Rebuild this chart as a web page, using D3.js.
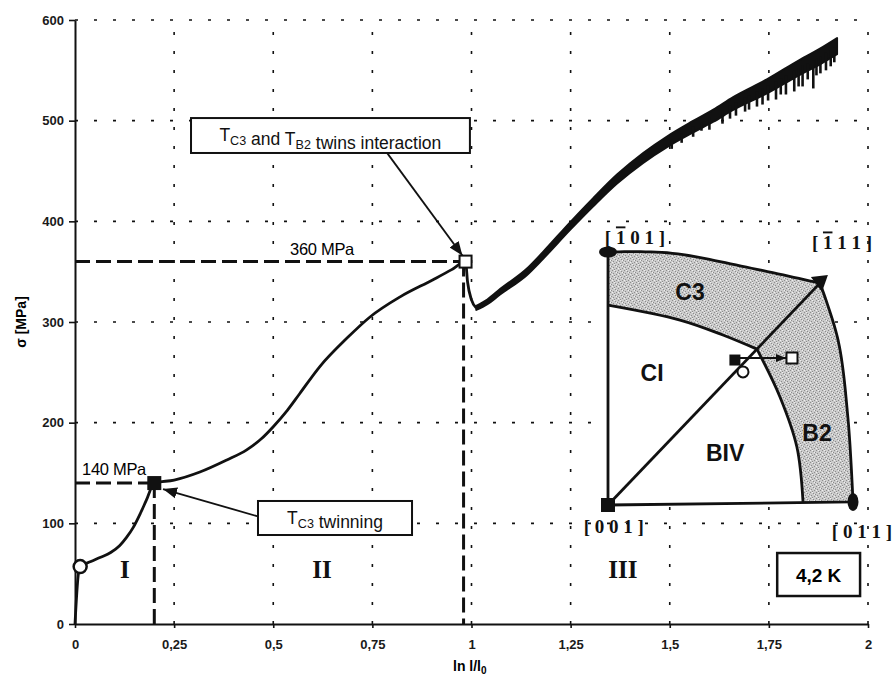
<!DOCTYPE html>
<html><head><meta charset="utf-8">
<script src="https://cdn.jsdelivr.net/npm/d3@7"></script>
<style>
html,body{margin:0;padding:0;background:#fff;}
svg{display:block;}
text{font-family:"Liberation Sans",Arial,sans-serif;}
.serif{font-family:"Liberation Serif","Times New Roman",serif;}
</style></head><body>
<script>
// ---------- data ----------
const xTicks = [0, 0.25, 0.5, 0.75, 1, 1.25, 1.5, 1.75, 2];
const xTickLabels = ["0", "0,25", "0,5", "0,75", "1", "1,25", "1,5", "1,75", "2"];
const yTicks = [0, 100, 200, 300, 400, 500, 600];

// stress-strain curve up to the stress drop (ln l/l0, sigma MPa)
const curveLow = [[0,0],[0.008,48],[0.013,57],[0.04,62],[0.063,66],[0.09,71],[0.113,78],[0.13,86],[0.147,96],[0.165,110],[0.18,123],[0.2,140],[0.25,143],[0.315,151],[0.383,163],[0.433,173],[0.47,184],[0.5,196],[0.535,212],[0.567,229],[0.618,256],[0.686,284],[0.744,305],[0.82,325],[0.903,342],[0.95,352],[0.985,360],[0.99,340],[1.0,322],[1.012,314]];
// serrated part after the drop (centre of the band)
const curveHigh = [[1.012,314],[1.04,320],[1.072,330],[1.14,350],[1.18,366],[1.248,395],[1.307,419],[1.367,442],[1.433,463],[1.493,479],[1.559,494],[1.61,505],[1.66,517],[1.745,534],[1.828,553],[1.88,564],[1.922,574]];
// vertical thickness of the serrated band (MPa)
const bandWidth = [[1.012,4],[1.1,6],[1.3,8],[1.45,10],[1.6,12],[1.75,14],[1.922,16]];
// serration spikes: [ln l/l0, lowest sigma of the spike]
const spikes = [[1.505,472],[1.53,478],[1.559,484],[1.58,490],[1.6,491],[1.633,497],[1.652,502],[1.667,505],[1.69,509],[1.7,511],[1.72,514],[1.734,516],[1.748,520],[1.768,521],[1.78,526],[1.793,526],[1.814,529],[1.825,534],[1.835,534],[1.848,541],[1.862,532],[1.87,545],[1.88,547],[1.894,550],[1.906,554],[1.915,558]];

// key points
const startYield = [0.013, 57];
const twinC3 = [0.2, 140];
const twinInteraction = [0.985, 360];
const stageLabels = [["I",0.126],["II",0.623],["III",1.382]];

// inset: stereographic triangle, unit coordinates
const cornerPts = {c001:[0,0], c101:[0,1], c111:[0.865,0.877], c011:[1.0,0.012]};
const topEdge = [[0,1],[0.253,0.996],[0.58,0.937],[0.865,0.877]];
const rightEdge = [[0.865,0.877],[0.939,0.652],[0.98,0.336],[1.0,0.012]];
const c3ciBoundary = [[0,0.79],[0.294,0.731],[0.469,0.672],[0.608,0.616]];
const b2bivBoundary = [[0.608,0.616],[0.702,0.427],[0.771,0.229],[0.796,0.012]];
const regionLabels = [["C3",0.335,0.842],["CI",0.18,0.522],["BIV",0.478,0.205],["B2",0.853,0.285]];
const axisPoint = {start:[0.551,0.526], mid:[0.518,0.573], end:[0.751,0.581]};

// ---------- drawing ----------
const W = 894, H = 676;
const svg = d3.select("body").append("svg").attr("width", W).attr("height", H);
const x = d3.scaleLinear().domain([0, 2]).range([75, 868]);
const y = d3.scaleLinear().domain([0, 600]).range([624, 20]);

// grid (dotted)
const grid = svg.append("g").attr("stroke", "#111").attr("stroke-width", 1.6).attr("stroke-dasharray", "3,16");
grid.selectAll(".gx").data(xTicks.slice(1)).join("line")
  .attr("x1", d => x(d)).attr("x2", d => x(d)).attr("y1", y(0)).attr("y2", y(600));
grid.selectAll(".gy").data(yTicks.slice(1)).join("line")
  .attr("x1", x(0)).attr("x2", x(2)).attr("y1", d => y(d)).attr("y2", d => y(d));

// axes
const yAxis = svg.append("g").attr("transform", `translate(${x(0)},0)`)
  .call(d3.axisLeft(y).tickValues(yTicks).tickSize(6).tickPadding(5).tickSizeOuter(0));
const xAxis = svg.append("g").attr("transform", `translate(0,${y(0)})`)
  .call(d3.axisBottom(x).tickValues(xTicks).tickSize(4).tickPadding(12).tickSizeOuter(0)
    .tickFormat((d, i) => xTickLabels[i]));
[xAxis, yAxis].forEach(a => {
  a.select(".domain").attr("stroke", "#111").attr("stroke-width", 2);
  a.selectAll(".tick line").attr("stroke", "#111").attr("stroke-width", 1.6);
  a.selectAll("text").attr("font-size", 13).attr("font-weight", "bold").attr("fill", "#1a1a1a")
    .attr("font-family", "'Liberation Sans', Arial, sans-serif");
});

// axis titles
svg.append("text").attr("transform", `translate(26,322) rotate(-90)`).attr("text-anchor", "middle")
  .attr("font-size", 14).attr("font-weight", "bold").text("σ [MPa]");
const xt = svg.append("text").attr("x", 453).attr("y", 671).attr("font-size", 14).attr("font-weight", "bold");
xt.append("tspan").text("ln l/l");
xt.append("tspan").attr("font-size", 10).attr("dy", 3).text("0");

// dashed reference lines
const dash = svg.append("g").attr("stroke", "#111").attr("stroke-width", 3).attr("stroke-dasharray", "15,6").attr("fill", "none");
dash.append("line").attr("x1", x(0)).attr("x2", x(twinC3[0])).attr("y1", y(twinC3[1])).attr("y2", y(twinC3[1]));
dash.append("line").attr("x1", x(twinC3[0])).attr("x2", x(twinC3[0])).attr("y1", y(twinC3[1])).attr("y2", y(0));
dash.append("line").attr("x1", x(0)).attr("x2", x(twinInteraction[0])).attr("y1", y(twinInteraction[1])).attr("y2", y(twinInteraction[1]));
dash.append("line").attr("x1", x(0.98)).attr("x2", x(0.98)).attr("y1", y(twinInteraction[1])).attr("y2", y(0));

// curve
const line = d3.line().x(d => x(d[0])).y(d => y(d[1])).curve(d3.curveMonotoneX);
svg.append("path").datum(curveLow).attr("d", line).attr("fill", "none").attr("stroke", "#111").attr("stroke-width", 2.8);
const lerp = (arr, xv) => {
  if (xv <= arr[0][0]) return arr[0][1];
  for (let i = 1; i < arr.length; i++) {
    const a = arr[i-1], b = arr[i];
    if (xv <= b[0]) return a[1] + (b[1]-a[1]) * (xv - a[0]) / (b[0]-a[0]);
  }
  return arr[arr.length-1][1];
};
const band = d3.area().x(d => x(d[0]))
  .y0(d => y(d[1] - lerp(bandWidth, d[0]) / 2)).y1(d => y(d[1] + lerp(bandWidth, d[0]) / 2))
  .curve(d3.curveMonotoneX);
svg.append("path").datum(curveHigh).attr("d", band).attr("fill", "#111").attr("stroke", "#111").attr("stroke-width", 2).attr("stroke-linejoin", "round");
svg.append("g").selectAll("line").data(spikes).join("line")
  .attr("x1", d => x(d[0])).attr("x2", d => x(d[0]))
  .attr("y1", d => y(lerp(curveHigh, d[0]))).attr("y2", d => y(d[1]))
  .attr("stroke", "#111").attr("stroke-width", 2.6);

// markers on the curve
svg.append("circle").attr("cx", x(startYield[0])).attr("cy", y(startYield[1])).attr("r", 6.5)
  .attr("fill", "#fff").attr("stroke", "#111").attr("stroke-width", 2.5);
svg.append("rect").attr("x", x(twinC3[0]) - 7).attr("y", y(twinC3[1]) - 7).attr("width", 14).attr("height", 14).attr("fill", "#111");
svg.append("rect").attr("x", x(twinInteraction[0]) - 6).attr("y", y(twinInteraction[1]) - 6).attr("width", 12).attr("height", 12)
  .attr("fill", "#fff").attr("stroke", "#111").attr("stroke-width", 2);

// arrow marker
const defs = svg.append("defs");
defs.append("marker").attr("id", "arr").attr("viewBox", "0 0 10 10").attr("refX", 10).attr("refY", 5)
  .attr("markerWidth", 14).attr("markerHeight", 14).attr("markerUnits", "userSpaceOnUse").attr("orient", "auto")
  .append("path").attr("d", "M0,1 L10,5 L0,9 Z").attr("fill", "#111");
defs.append("marker").attr("id", "arrS").attr("viewBox", "0 0 10 10").attr("refX", 10).attr("refY", 5)
  .attr("markerWidth", 10).attr("markerHeight", 10).attr("markerUnits", "userSpaceOnUse").attr("orient", "auto")
  .append("path").attr("d", "M0,1 L10,5 L0,9 Z").attr("fill", "#111");
// stipple pattern
const pat = defs.append("pattern").attr("id", "stip").attr("width", 6).attr("height", 6).attr("patternUnits", "userSpaceOnUse");
pat.append("rect").attr("width", 6).attr("height", 6).attr("fill", "#cbcbcb");
[[0,0],[3,1],[1,3],[4,4],[5,2],[2,5]].forEach(p => pat.append("rect").attr("x", p[0]).attr("y", p[1]).attr("width", 1).attr("height", 1).attr("fill", "#8c8c8c"));
[[2,0],[0,4],[4,2]].forEach(p => pat.append("rect").attr("x", p[0]).attr("y", p[1]).attr("width", 1).attr("height", 1).attr("fill", "#f0f0f0"));

// annotation boxes (data coordinates)
function subText(g, cx, cy, parts, size) {
  const t = g.append("text").attr("x", cx).attr("y", cy).attr("text-anchor", "middle").attr("font-size", size).attr("fill", "#111");
  parts.forEach(p => {
    if (p.sub) { t.append("tspan").attr("font-size", size * 0.72).attr("dy", 4).text(p.t); t.append("tspan").attr("dy", -4).text(""); }
    else t.append("tspan").text(p.t);
  });
  return t;
}
const ann = svg.append("g");
// box 1
ann.append("line").attr("x1", x(0.787)).attr("y1", y(468)).attr("x2", x(0.977)).attr("y2", y(366))
  .attr("stroke", "#111").attr("stroke-width", 1.8).attr("marker-end", "url(#arr)");
ann.append("rect").attr("x", x(0.2926)).attr("y", y(502.6)).attr("width", x(0.996) - x(0.2926)).attr("height", y(467.9) - y(502.6))
  .attr("fill", "#fff").attr("stroke", "#111").attr("stroke-width", 2);
subText(ann, x(0.644), y(479.5), [{t:"T"},{t:"C3",sub:true},{t:" and T"},{t:"B2",sub:true},{t:" twins interaction"}], 17.5);
// box 2
ann.append("line").attr("x1", x(0.4666)).attr("y1", y(106.3)).attr("x2", x(0.222)).attr("y2", y(134))
  .attr("stroke", "#111").attr("stroke-width", 1.8).attr("marker-end", "url(#arr)");
ann.append("rect").attr("x", x(0.4615)).attr("y", y(122.2)).attr("width", x(0.85) - x(0.4615)).attr("height", y(88.4) - y(122.2))
  .attr("fill", "#fff").attr("stroke", "#111").attr("stroke-width", 2);
subText(ann, x(0.6558), y(99.5), [{t:"T"},{t:"C3",sub:true},{t:" twinning"}], 17.5);
// value labels
ann.append("text").attr("x", x(0.0984)).attr("y", y(148)).attr("text-anchor", "middle").attr("font-size", 16.5).attr("letter-spacing", -0.3).text("140 MPa");
ann.append("text").attr("x", x(0.623)).attr("y", y(366.5)).attr("text-anchor", "middle").attr("font-size", 16.5).attr("letter-spacing", -0.3).text("360 MPa");
// stage labels
ann.selectAll(".stage").data(stageLabels).join("text").attr("class", "serif")
  .attr("x", d => x(d[1])).attr("y", y(46)).attr("text-anchor", "middle")
  .attr("font-size", 25).attr("font-weight", "bold").attr("fill", "#111").text(d => d[0]);
// 4,2 K box
ann.append("rect").attr("x", x(1.771)).attr("y", y(70.5)).attr("width", x(1.98) - x(1.771)).attr("height", y(27.8) - y(70.5))
  .attr("fill", "#fff").attr("stroke", "#111").attr("stroke-width", 2.5);
ann.append("text").attr("x", x(1.8755)).attr("y", y(42)).attr("text-anchor", "middle").attr("font-size", 19).attr("font-weight", "bold").text("4,2 K");

// ---------- inset ----------
const u = d3.scaleLinear().domain([0, 1]).range([608, 853]);
const v = d3.scaleLinear().domain([0, 1]).range([505, 252]);
const il = d3.line().x(d => u(d[0])).y(d => v(d[1])).curve(d3.curveCatmullRom);
const inset = svg.append("g");
const I = cornerPts;
const diag = [I.c001, I.c111];
const pathOf = pts => "M" + pts.map(p => u(p[0]) + "," + v(p[1])).join("L") + "Z";
function sample(pts) {
  const p = document.createElementNS("http://www.w3.org/2000/svg", "path");
  p.setAttribute("d", il(pts));
  svg.node().appendChild(p);
  const L = p.getTotalLength(), out = [];
  for (let i = 0; i <= 40; i++) { const q = p.getPointAtLength(L * i / 40); out.push([u.invert(q.x), v.invert(q.y)]); }
  p.remove();
  return out;
}
const topS = sample(topEdge), rightS = sample(rightEdge), c3S = sample(c3ciBoundary), b2S = sample(b2bivBoundary);
inset.append("path").attr("d", pathOf([I.c001, ...topS, ...rightS])).attr("fill", "#fff");
inset.append("path").attr("d", pathOf([...c3S, I.c111, ...topS.slice().reverse()])).attr("fill", "url(#stip)");
inset.append("path").attr("d", pathOf([c3S[c3S.length-1], ...rightS, ...b2S.slice().reverse()])).attr("fill", "url(#stip)");
const st = sel => sel.attr("fill", "none").attr("stroke", "#111").attr("stroke-width", 2.8).attr("stroke-linejoin", "round");
st(inset.append("path").attr("d", pathOf([I.c001, ...topS, ...rightS])));
st(inset.append("path").attr("d", il(c3ciBoundary)));
st(inset.append("path").attr("d", il(b2bivBoundary)));
st(inset.append("line").attr("x1", u(diag[0][0])).attr("y1", v(diag[0][1])).attr("x2", u(diag[1][0])).attr("y2", v(diag[1][1])));
// corner markers
inset.append("rect").attr("x", u(I.c001[0]) - 7).attr("y", v(I.c001[1]) - 7).attr("width", 14).attr("height", 14).attr("fill", "#111");
inset.append("ellipse").attr("cx", u(I.c101[0])).attr("cy", v(I.c101[1])).attr("rx", 9).attr("ry", 5.5).attr("fill", "#111");
inset.append("ellipse").attr("cx", u(I.c011[0])).attr("cy", v(I.c011[1])).attr("rx", 5.5).attr("ry", 9).attr("fill", "#111");
inset.append("path").attr("transform", `translate(${u(I.c111[0])},${v(I.c111[1])})`)
  .attr("d", "M-9,-6 L8,-8 L2,9 Z").attr("fill", "#111");
// orientation path markers
inset.append("line").attr("x1", u(axisPoint.mid[0]) + 5).attr("y1", v(axisPoint.end[1])).attr("x2", u(axisPoint.end[0]) - 6).attr("y2", v(axisPoint.end[1]))
  .attr("stroke", "#111").attr("stroke-width", 2).attr("marker-end", "url(#arrS)");
inset.append("rect").attr("x", u(axisPoint.mid[0]) - 5.5).attr("y", v(axisPoint.mid[1]) - 5.5).attr("width", 11).attr("height", 11).attr("fill", "#111");
inset.append("circle").attr("cx", u(axisPoint.start[0])).attr("cy", v(axisPoint.start[1])).attr("r", 5.5)
  .attr("fill", "#fff").attr("stroke", "#111").attr("stroke-width", 2);
inset.append("rect").attr("x", u(axisPoint.end[0]) - 5.5).attr("y", v(axisPoint.end[1]) - 5.5).attr("width", 11).attr("height", 11)
  .attr("fill", "#fff").attr("stroke", "#111").attr("stroke-width", 2);
// region labels
inset.selectAll(".rl").data(regionLabels).join("text")
  .attr("x", d => u(d[1])).attr("y", d => v(d[2])).attr("dy", "0.36em").attr("text-anchor", "middle")
  .attr("font-size", 23).attr("font-weight", "bold").attr("fill", "#111").text(d => d[0]);
// corner labels
function millerLabel(px, py, anchor, parts) {
  const t = inset.append("text").attr("class", "serif").attr("x", px).attr("y", py).attr("text-anchor", anchor)
    .attr("font-size", 19).attr("font-weight", "bold").attr("fill", "#111");
  parts.forEach(p => {
    const s = t.append("tspan").text(p.t);
    if (p.bar) s.style("text-decoration", "overline");
  });
}
millerLabel(u(0.11), v(1.03), "middle", [{t:"[ "},{t:"1",bar:true},{t:" 0 1 ]"}]);
millerLabel(u(0.955), v(1.01), "middle", [{t:"[ "},{t:"1",bar:true},{t:" 1 1 ]"}]);
millerLabel(u(0.024), v(-0.11), "middle", [{t:"[ 0 0 1 ]"}]);
millerLabel(892, v(-0.13), "end", [{t:"[ 0 1 1 ]"}]);
</script>
</body></html>
